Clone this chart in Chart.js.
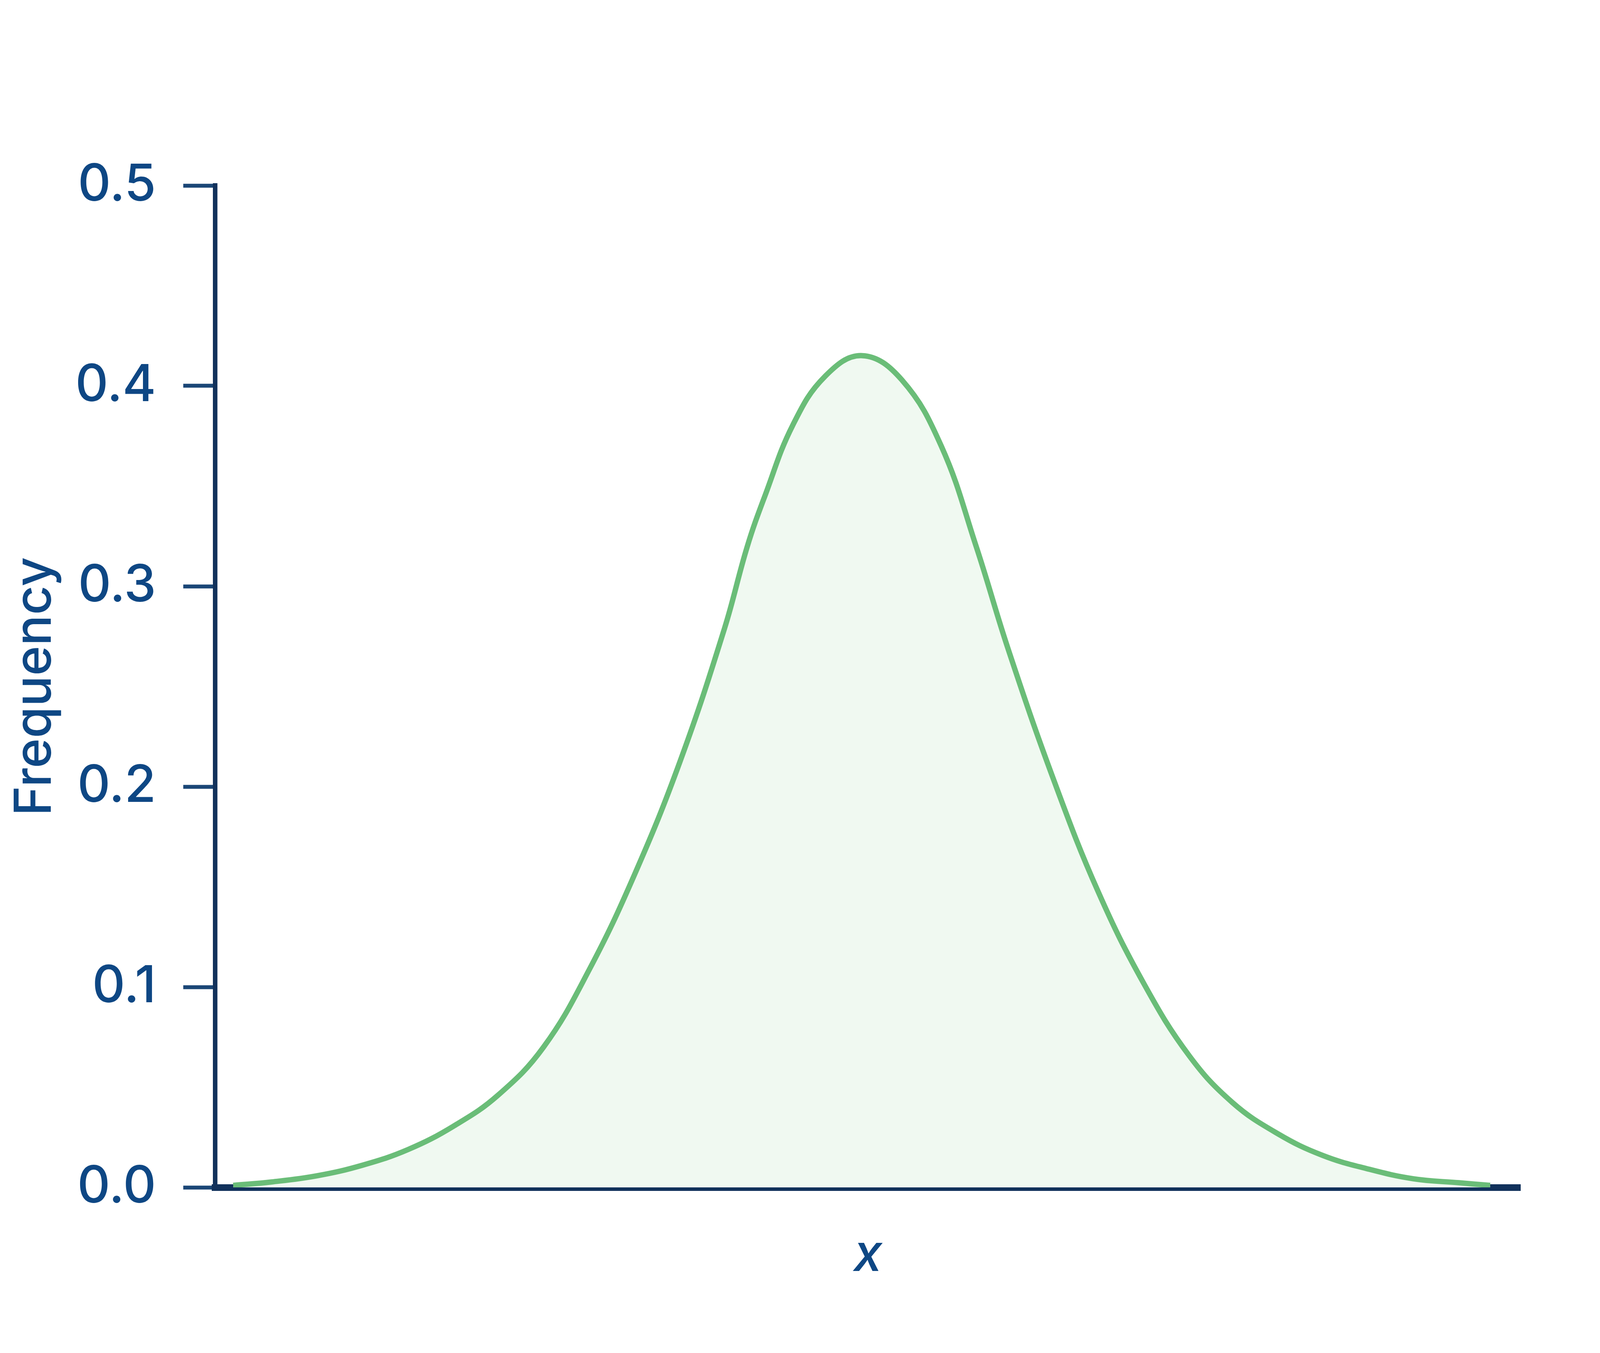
<!DOCTYPE html>
<html>
<head>
<meta charset="utf-8">
<title>Frequency curve</title>
<script src="https://cdn.jsdelivr.net/npm/chart.js@4.4.1/dist/chart.umd.min.js"></script>
<style>
    html, body { margin: 0; padding: 0; background: #ffffff; overflow: hidden; }
    #wrap { width: 100vw; height: 100vh; position: relative; }
</style>
</head>
<body>
<div id="wrap"><canvas id="curveChart"></canvas></div>
<script>
// Values
const xValues = [-5.25, -4.93, -4.55, -4.17, -3.79, -3.41, -3.04, -2.66, -2.28, -1.90, -1.52, -1.15, -0.96, -0.81, -0.58, -0.31, 0,
                 0.33, 0.66, 0.95, 1.22, 1.60, 1.97, 2.35, 2.73, 3.09, 3.47, 3.84, 4.22, 4.60, 4.98, 5.24];
const frequencyValues = [0.001, 0.0027, 0.0058, 0.0111, 0.0189, 0.0306, 0.0460, 0.0700, 0.1085, 0.1562, 0.2127, 0.2789, 0.3198, 0.3455, 0.3804, 0.4048, 0.4151,
                         0.4030, 0.3699, 0.3200, 0.2682, 0.2030, 0.1474, 0.1017, 0.0656, 0.0423, 0.0267, 0.0160, 0.0092, 0.0043, 0.0023, 0.001];
const yTickLabels = ['0.0', '0.1', '0.2', '0.3', '0.4', '0.5'];
const xTitle = 'x';
const yTitle = 'Frequency';

// Colours
const navy = '#11315b';
const labelBlue = '#0e4784';
const curveGreen = '#6abd78';
const fillGreen = '#f0f9f1';

function initializeCurveChart() {
    const ctx = document.getElementById('curveChart');
    if (!ctx) return;

    // reference picture is 7063 x 3464, scale everything to the real window
    const sx = window.innerWidth / 7063;
    const sy = window.innerHeight / 3464;
    const fontSize = Math.round(150 * Math.min(sy, Math.max(sx, 0.87 * sy)));
    const lineH = fontSize * 1.2;

    const points = xValues.map((x, i) => ({ x: x, y: frequencyValues[i] }));

    new Chart(ctx, {
        type: 'line',
        data: {
            datasets: [{
                data: points,
                borderColor: curveGreen,
                backgroundColor: fillGreen,
                borderWidth: Math.max(13, 18 * Math.sqrt(sx * sy)),
                pointRadius: 0,
                tension: 0.4,
                fill: 'origin'
            }]
        },
        options: {
            responsive: true,
            maintainAspectRatio: false,
            animation: false,
            devicePixelRatio: 1,
            layout: {
                padding: { top: 475 * sy, right: 350 * sx, bottom: 0, left: 0 }
            },
            plugins: {
                legend: { display: false },
                tooltip: { enabled: false }
            },
            scales: {
                x: {
                    type: 'linear',
                    min: -5.4,
                    max: 5.495,
                    z: 1,
                    afterFit: function(scale) { scale.height = 424 * sy; },
                    border: { display: true, color: navy, width: 17 * sy },
                    grid: { display: true, drawOnChartArea: false, drawTicks: false, lineWidth: 0 },
                    ticks: { display: false },
                    title: {
                        display: true,
                        text: xTitle,
                        color: labelBlue,
                        padding: { top: 0, bottom: 3464 * sy - 3215 * sy - lineH / 2 },
                        font: { family: 'Inter', size: fontSize, style: 'italic', weight: '500', lineHeight: 1.2 }
                    }
                },
                y: {
                    min: 0,
                    max: 0.5,
                    z: 1,
                    afterFit: function(scale) { scale.width = 950 * sx; },
                    border: { display: true, color: navy, width: Math.max(10, 20 * sx) },
                    grid: {
                        drawOnChartArea: false,
                        drawTicks: true,
                        tickLength: 141 * sx,
                        tickWidth: 10 * sy,
                        tickColor: '#1a4676'
                    },
                    ticks: {
                        stepSize: 0.1,
                        padding: 120 * sx,
                        color: labelBlue,
                        font: { family: 'Inter', size: fontSize, weight: '500' },
                        callback: function(value, index) { return yTickLabels[index]; }
                    },
                    title: {
                        display: true,
                        text: yTitle,
                        color: labelBlue,
                        padding: { top: Math.max(0, 156 * sx - lineH / 2), bottom: 0 },
                        font: { family: 'Inter', size: fontSize, weight: '500', lineHeight: 1.2 }
                    }
                }
            }
        }
    });
}

initializeCurveChart();
</script>
</body>
</html>
